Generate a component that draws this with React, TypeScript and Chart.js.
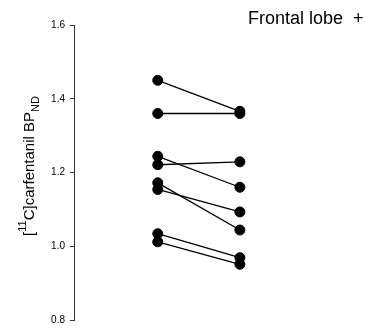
import React, { useEffect, useRef } from 'react';
import { Chart, registerables } from 'chart.js';

Chart.register(...registerables);

// Two conditions per subject (x positions 1 and 2)
const conditionX = [1, 2];
const preValues = [1.450, 1.360, 1.244, 1.221, 1.172, 1.154, 1.034, 1.012];
const postValues = [1.366, 1.360, 1.160, 1.229, 1.044, 1.093, 0.969, 0.951];
const yTicks = [0.8, 1.0, 1.2, 1.4, 1.6];
const titleText = 'Frontal lobe  +';
const yTitleParts = [
  { t: '[', kind: 'main' },
  { t: '11', kind: 'sup' },
  { t: 'C]carfentanil BP', kind: 'main' },
  { t: 'ND', kind: 'sub' },
];

const FONT = '"Liberation Sans", Arial, Helvetica, sans-serif';

const textPlugin = {
  id: 'customTexts',
  afterDraw(chart: any) {
    const ctx = chart.ctx as CanvasRenderingContext2D;
    ctx.save();
    ctx.fillStyle = '#000';
    ctx.textAlign = 'left';
    ctx.textBaseline = 'alphabetic';
    ctx.font = `18px ${FONT}`;
    ctx.fillText(titleText, 248, 24);

    // rotated y-axis title with super/subscripts
    const sizes: any = { main: 15, sup: 11, sub: 11 };
    const offs: any = { main: 0, sup: -8, sub: 5 };
    let total = 0;
    const widths = yTitleParts.map((p) => {
      ctx.font = `${sizes[p.kind]}px ${FONT}`;
      const w = ctx.measureText(p.t).width;
      total += w;
      return w;
    });
    ctx.translate(34, 166);
    ctx.rotate(-Math.PI / 2);
    let x = -total / 2;
    yTitleParts.forEach((p, i) => {
      ctx.font = `${sizes[p.kind]}px ${FONT}`;
      ctx.fillText(p.t, x, offs[p.kind]);
      x += widths[i];
    });
    ctx.restore();
  },
};

export default function App() {
  const ref = useRef<HTMLCanvasElement | null>(null);
  useEffect(() => {
    if (!ref.current) return;
    const datasets = preValues.map((pre, i) => ({
      data: [
        { x: conditionX[0], y: pre },
        { x: conditionX[1], y: postValues[i] },
      ],
      borderColor: '#000',
      borderWidth: 1.3,
      pointRadius: 5,
      pointBorderWidth: 1,
      pointBackgroundColor: '#000',
      pointBorderColor: '#000',
      showLine: true,
      fill: false,
    }));
    const chart = new Chart(ref.current, {
      type: 'line',
      data: { datasets },
      options: {
        responsive: false,
        animation: false,
        layout: { padding: { top: 25, bottom: 8, left: 0, right: 49 } },
        plugins: { legend: { display: false }, tooltip: { enabled: false }, title: { display: false } },
        scales: {
          x: { type: 'linear', min: -0.02, max: 3, display: false },
          y: {
            type: 'linear',
            min: 0.8,
            max: 1.6,
            afterBuildTicks: (s: any) => {
              s.ticks = yTicks.map((v) => ({ value: v }));
            },
            afterFit: (s: any) => {
              s.width = 74;
            },
            ticks: {
              callback: (v: any) => Number(v).toFixed(1),
              font: { size: 10, family: FONT },
              color: '#000',
              padding: 5,
            },
            grid: { drawOnChartArea: false, drawTicks: true, tickLength: 4, color: '#333' },
            border: { display: true, color: '#333', width: 1 },
          },
        },
      },
      plugins: [textPlugin],
    } as any);
    return () => chart.destroy();
  }, []);
  return (
    <div style={{ position: 'absolute', left: 0, top: 0, width: 371, height: 331, background: '#fff' }}>
      <canvas ref={ref} width={371} height={331} />
    </div>
  );
}
